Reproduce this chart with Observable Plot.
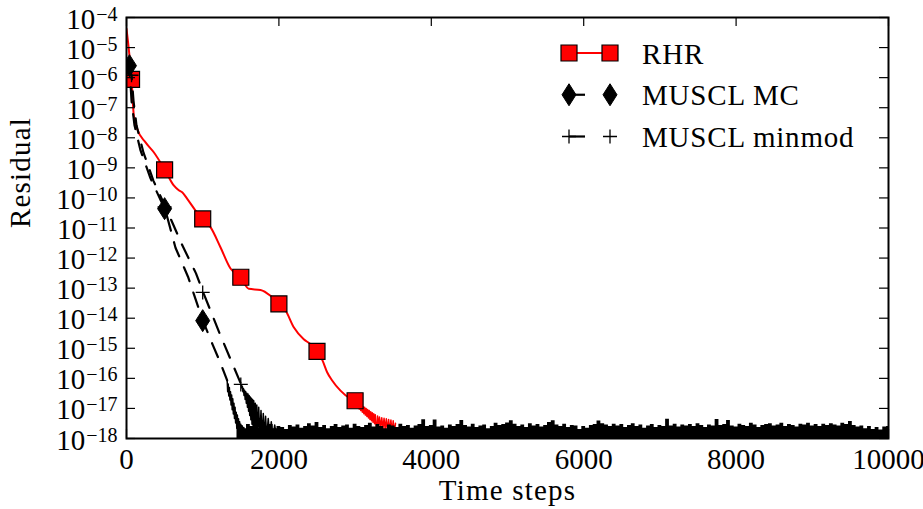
<!DOCTYPE html>
<html>
<head>
<meta charset="utf-8">
<script src="https://cdn.jsdelivr.net/npm/d3@7"></script>
<script src="https://cdn.jsdelivr.net/npm/@observablehq/plot@0.6"></script>
<style>
  html, body { margin: 0; padding: 0; background: #fff; }
  #wrap { position: relative; width: 923px; height: 509px; font-family: "Liberation Serif", "Times New Roman", serif; }
  #legend { position: absolute; left: 0; top: 0; pointer-events: none; }
</style>
</head>
<body>
<div id="wrap"></div>
<script>
// ---------------- data ----------------
const yTicks = [1e-4, 1e-5, 1e-6, 1e-7, 1e-8, 1e-9, 1e-10, 1e-11, 1e-12, 1e-13, 1e-14, 1e-15, 1e-16, 1e-17, 1e-18];
const xTicks = [0, 2000, 4000, 6000, 8000, 10000];
const legendLabels = ["RHR", "MUSCL MC", "MUSCL minmod"];

// RHR (red, solid)
const rhrX = [0, 30, 66, 96, 140, 250, 358, 503, 620, 686, 731, 797, 906, 1000, 1102, 1233, 1365, 1496, 1605, 1758, 1889, 1998, 2087, 2195, 2326, 2415, 2502, 2573, 2633, 2699, 2808, 2940, 3005];
const rhrY = [4.2e-5, 9e-6, 8.7e-7, 5.5e-8, 2e-8, 7e-9, 3.3e-9, 8.6e-10, 2.6e-10, 1.8e-10, 1.55e-10, 9.3e-11, 3.8e-11, 2e-11, 1.07e-11, 2.3e-12, 4.5e-13, 2.3e-13, 9.5e-14, 8.7e-14, 5.6e-14, 3e-14, 1.8e-14, 5e-15, 2e-15, 1.37e-15, 7.9e-16, 3.9e-16, 1.6e-16, 8.5e-17, 3.9e-17, 2.1e-17, 1.8e-17];
const rhrTailX = [3005, 3015, 3025, 3035, 3045, 3055, 3065, 3075, 3085, 3095, 3105, 3115, 3125, 3135, 3145, 3155, 3165, 3175, 3185, 3195, 3205, 3215, 3225, 3235, 3245, 3255, 3265, 3275, 3285, 3295, 3305, 3320, 3335, 3350, 3365, 3380, 3395, 3410, 3425, 3440, 3455, 3470, 3485, 3500, 3515, 3530];
const rhrTailY = [1.8e-17, 1.3e-17, 1.6e-17, 1.1e-17, 1.45e-17, 9.5e-18, 1.35e-17, 8.5e-18, 1.25e-17, 7.5e-18, 1.15e-17, 6.7e-18, 1.1e-17, 6e-18, 1.0e-17, 5.4e-18, 9.2e-18, 4.8e-18, 8.5e-18, 4.3e-18, 7.8e-18, 3.9e-18, 7.2e-18, 3.5e-18, 6.6e-18, 3.1e-18, 6.2e-18, 2.8e-18, 1.1e-18, 5.6e-18, 2.5e-18, 5.2e-18, 2.3e-18, 4.9e-18, 2.1e-18, 4.7e-18, 2.0e-18, 4.5e-18, 1.8e-18, 4.3e-18, 1.7e-18, 4.1e-18, 1.6e-18, 3.9e-18, 1.5e-18, 3.2e-18];
const rhrMarkX = [66, 500, 1000, 1500, 2000, 2500, 3000, 6000];
const rhrMarkY = [8.7e-7, 8.6e-10, 2e-11, 2.3e-13, 3e-14, 7.9e-16, 1.8e-17, 1e-18];

// MUSCL MC (black, dashed)
const mcX = [0, 39, 66, 105, 184, 315, 512, 643, 807, 997, 1129, 1234, 1321];
const mcY = [3.5e-6, 2.5e-6, 1.7e-7, 2.6e-8, 3.8e-9, 4.5e-10, 3.8e-11, 2.2e-12, 2.4e-13, 9e-15, 1.35e-15, 3.2e-16, 8.5e-17];
const mcTailX = [1321, 1328, 1335, 1342, 1350, 1357, 1365, 1372, 1380, 1387, 1395, 1402, 1410, 1417, 1425, 1432, 1440, 1447, 1455, 1462, 1470, 1477, 1485, 1492, 1500, 1510, 1520, 1530, 1540, 1550];
const mcTailY = [8.5e-17, 3.6e-17, 6.5e-17, 2.6e-17, 5e-17, 1.9e-17, 3.6e-17, 1.3e-17, 2.8e-17, 9e-18, 2.1e-17, 6.5e-18, 1.5e-17, 4.6e-18, 1.1e-17, 3.3e-18, 7.5e-18, 2.2e-18, 6e-18, 1.5e-18, 4.5e-18, 1.2e-18, 3.6e-18, 1.1e-18, 3.0e-18, 1.2e-18, 2.6e-18, 1.1e-18, 2.3e-18, 1.0e-18];
const mcMarkX = [39, 500, 1000];
const mcMarkY = [2.5e-6, 4.4e-11, 8.3e-15];

// MUSCL minmod (black, dashed)
const mmX = [0, 66, 92, 131, 223, 354, 512, 731, 912, 1007, 1225, 1387, 1505];
const mmY = [2.5e-6, 1.2e-6, 1.7e-7, 2.6e-8, 3.2e-9, 3.7e-10, 5e-11, 2.7e-12, 3.1e-13, 7.2e-14, 3e-15, 3.2e-16, 6.3e-17];
const mmTailX = [1505, 1512, 1520, 1527, 1535, 1542, 1550, 1557, 1565, 1572, 1580, 1587, 1595, 1602, 1610, 1617, 1625, 1632, 1640, 1647, 1655, 1662, 1670, 1680, 1690, 1700, 1710, 1720, 1735, 1750, 1765, 1780, 1795, 1810, 1825, 1840, 1860, 1880, 1900, 1920, 1945, 1970, 2000];
const mmTailY = [6.3e-17, 4.8e-17, 5.5e-17, 3.6e-17, 4.6e-17, 2.7e-17, 4e-17, 2e-17, 3.6e-17, 1.5e-17, 3.2e-17, 1.1e-17, 3e-17, 8e-18, 2.7e-17, 5.8e-18, 2.4e-17, 4.2e-18, 2.2e-17, 3e-18, 2e-17, 2.2e-18, 1.8e-17, 1.6e-18, 1.5e-17, 1.3e-18, 1.3e-17, 1.2e-18, 1.1e-17, 1.1e-18, 8.5e-18, 1.1e-18, 6.8e-18, 1.1e-18, 5.5e-18, 1.1e-18, 4.6e-18, 1.1e-18, 3.6e-18, 1.1e-18, 2.8e-18, 1.1e-18, 2.3e-18];
const mmMarkX = [66, 500, 1000, 1500];
const mmMarkY = [1.2e-6, 5e-11, 7.2e-14, 6.3e-17];

// round-off noise floor shared by the schemes, sampled every 50 steps from step 1450, in units of 1e-18
const floorStart = 1450, floorStep = 50;
const floorNoise = [
  2.3,2.7,2.1,2.9,2.5,3.2,2.2,2.6,2.4,2.9,
  2.1,2.5,2.3,2.0,2.7,2.4,2.8,2.2,2.5,3.1,
  2.6,3.4,2.3,2.7,2.1,2.5,2.9,2.3,2.6,2.8,
  2.2,3.0,2.5,2.3,2.7,3.2,2.4,2.9,2.5,2.1,
  2.8,2.6,2.3,3.0,2.5,2.7,2.2,2.6,2.9,4.2,
  2.5,2.7,4.1,2.4,2.6,2.2,2.8,2.5,2.9,4.0,
  2.7,2.4,3.0,2.3,2.6,2.8,2.1,2.5,3.2,2.7,
  2.9,3.3,3.9,3.0,2.5,2.8,2.3,3.1,2.6,2.9,
  2.4,2.7,3.4,3.9,2.8,2.5,3.0,2.3,2.7,2.6,
  2.0,2.5,2.2,2.7,2.9,3.8,3.1,2.8,2.5,3.0,
  2.6,2.9,2.3,2.7,3.1,2.5,2.8,2.2,2.6,2.9,
  2.3,2.7,2.5,4.4,2.6,3.0,2.4,2.8,2.6,2.9,
  2.5,3.1,2.7,2.3,2.8,2.6,4.3,2.7,2.9,4.0,
  2.6,2.4,3.0,2.7,2.5,3.2,2.8,2.3,2.7,2.9,
  3.1,2.6,2.8,3.2,2.5,2.9,2.7,2.4,3.0,2.8,
  3.2,2.6,2.9,2.5,3.0,2.7,3.1,2.8,2.6,3.2,
  2.9,3.7,2.7,2.4,2.6,2.1,2.5,2.0,2.3,1.9,2.4,2.5
];

// ---------------- layout / style ----------------
const W = 923, H = 509, mL = 126, mR = 35, mT = 17, mB = 71;
const innerW = W - mL - mR, innerH = H - mT - mB;
const FONT = '"Liberation Serif", "Times New Roman", serif';
const FS = 29;
const RED = "#ff0000";
const DASH = "15,12";

const rows = (xs, ys) => xs.map((x, i) => ({x, y: ys[i]}));
const floorRows = floorNoise.map((v, i) => ({x: floorStart + i * floorStep, y: v * 1e-18}));

// marker shapes (matplotlib-like)
const squareSym = {draw(c) { const h = 8; c.moveTo(-h, -h); c.lineTo(h, -h); c.lineTo(h, h); c.lineTo(-h, h); c.closePath(); }};
const diamondSym = {draw(c) { const w = 7, h = 11; c.moveTo(0, -h); c.lineTo(w, 0); c.lineTo(0, h); c.lineTo(-w, 0); c.closePath(); }};
const plusSym = {draw(c) { const h = 7; c.moveTo(-h, 0); c.lineTo(h, 0); c.moveTo(0, -h); c.lineTo(0, h); }};

const plot = Plot.plot({
  width: W, height: H,
  marginLeft: mL, marginRight: mR, marginTop: mT, marginBottom: mB,
  style: {fontFamily: FONT, fontSize: FS + "px", color: "black", background: "white"},
  x: {domain: [0, 10000], ticks: xTicks, tickSize: 0, tickPadding: 10, tickFormat: d => String(d), label: null},
  y: {type: "log", domain: [1e-18, 1e-4], ticks: yTicks, tickSize: 0, tickPadding: 9,
      tickFormat: d => "E" + Math.round(Math.log10(d)), label: null},
  marks: [
    Plot.line(rows(rhrX, rhrY), {x: "x", y: "y", stroke: RED, strokeWidth: 2, curve: "monotone-x", clip: true}),
    Plot.line(rows(rhrTailX, rhrTailY), {x: "x", y: "y", stroke: RED, strokeWidth: 1.5, clip: true}),
    Plot.dot(rows(rhrMarkX, rhrMarkY), {x: "x", y: "y", symbol: squareSym, fill: RED, stroke: "black", strokeWidth: 1.2, clip: true}),

    Plot.line(rows(mcX, mcY), {x: "x", y: "y", stroke: "black", strokeWidth: 2.2, strokeDasharray: DASH, clip: true}),
    Plot.line(rows(mcTailX, mcTailY), {x: "x", y: "y", stroke: "black", strokeWidth: 1.5, clip: true}),
    Plot.dot(rows(mcMarkX, mcMarkY), {x: "x", y: "y", symbol: diamondSym, fill: "black", stroke: "black", strokeWidth: 1, clip: true}),

    Plot.line(rows(mmX, mmY), {x: "x", y: "y", stroke: "black", strokeWidth: 2.2, strokeDasharray: DASH, clip: true}),
    Plot.line(rows(mmTailX, mmTailY), {x: "x", y: "y", stroke: "black", strokeWidth: 1.5, clip: true}),
    Plot.dot(rows(mmMarkX, mmMarkY), {x: "x", y: "y", symbol: plusSym, fill: "none", stroke: "black", strokeWidth: 1.3, clip: true}),

    Plot.areaY(floorRows, {x: "x", y1: () => 1e-18, y2: "y", curve: "step", fill: "black", clip: true}),

    // inward ticks on all four sides
    Plot.tickY(yTicks, {y: d => d, insetRight: innerW - 9, stroke: "black", strokeWidth: 1.2}),
    Plot.tickY(yTicks, {y: d => d, insetLeft: innerW - 9, stroke: "black", strokeWidth: 1.2}),
    Plot.tickX(xTicks, {x: d => d, insetBottom: innerH - 9, stroke: "black", strokeWidth: 1.2}),
    Plot.tickX(xTicks, {x: d => d, insetTop: innerH - 9, stroke: "black", strokeWidth: 1.2}),
    Plot.frame({stroke: "black", strokeWidth: 2}),

    Plot.text(["Time steps"], {frameAnchor: "bottom", dy: 61, fontSize: FS, fill: "black", textAnchor: "middle"}),
    Plot.text(["Residual"], {frameAnchor: "left", rotate: -90, dx: -106, fontSize: FS, fill: "black"})
  ]
});

// y tick labels as 10^{-n}
plot.querySelectorAll("text").forEach(t => {
  const m = /^E(-?\d+)$/.exec(t.textContent);
  if (m) {
    const e = +m[1];
    t.textContent = "";
    t.setAttribute("y", "11");
    const base = document.createElementNS("http://www.w3.org/2000/svg", "tspan");
    base.textContent = "10";
    const sup = document.createElementNS("http://www.w3.org/2000/svg", "tspan");
    sup.textContent = (e < 0 ? "\u2212" : "") + Math.abs(e);
    sup.setAttribute("dy", "-8");
    sup.setAttribute("dx", "1");
    sup.setAttribute("font-size", "20");
    t.appendChild(base);
    t.appendChild(sup);
  } else if (t.textContent === "Time steps" || t.textContent === "Residual") {
    t.style.letterSpacing = "1.2px";
  }
});

const wrap = document.getElementById("wrap");
wrap.appendChild(plot);

// legend (upper right, inside the frame)
const lg = d3.select(wrap).append("svg").attr("id", "legend").attr("width", W).attr("height", H)
  .attr("font-family", FONT);
const symPath = s => { const p = d3.path(); s.draw(p); return p.toString(); };
const legendStyles = [
  {stroke: RED, width: 2, dash: null, sym: squareSym, fill: RED, symStroke: "black", symWidth: 1.2},
  {stroke: "black", width: 2.2, dash: "16,30", sym: diamondSym, fill: "black", symStroke: "black", symWidth: 1},
  {stroke: "black", width: 2.2, dash: "16,30", sym: plusSym, fill: "none", symStroke: "black", symWidth: 1.3}
];
legendLabels.forEach((lab, i) => {
  const cy = 53 + i * 41.75, x0 = 569, x1 = 610;
  const st = legendStyles[i];
  const ln = lg.append("line").attr("x1", x0).attr("x2", x1).attr("y1", cy).attr("y2", cy)
    .attr("stroke", st.stroke).attr("stroke-width", st.width);
  if (st.dash) ln.attr("stroke-dasharray", st.dash);
  [x0, x1].forEach(x => lg.append("path").attr("d", symPath(st.sym))
    .attr("transform", `translate(${x},${cy})`)
    .attr("fill", st.fill).attr("stroke", st.symStroke).attr("stroke-width", st.symWidth));
  lg.append("text").attr("x", 642).attr("y", cy + 10.5).attr("font-size", FS)
    .attr("letter-spacing", "0.8px").attr("fill", "black").text(lab);
});
</script>
</body>
</html>
